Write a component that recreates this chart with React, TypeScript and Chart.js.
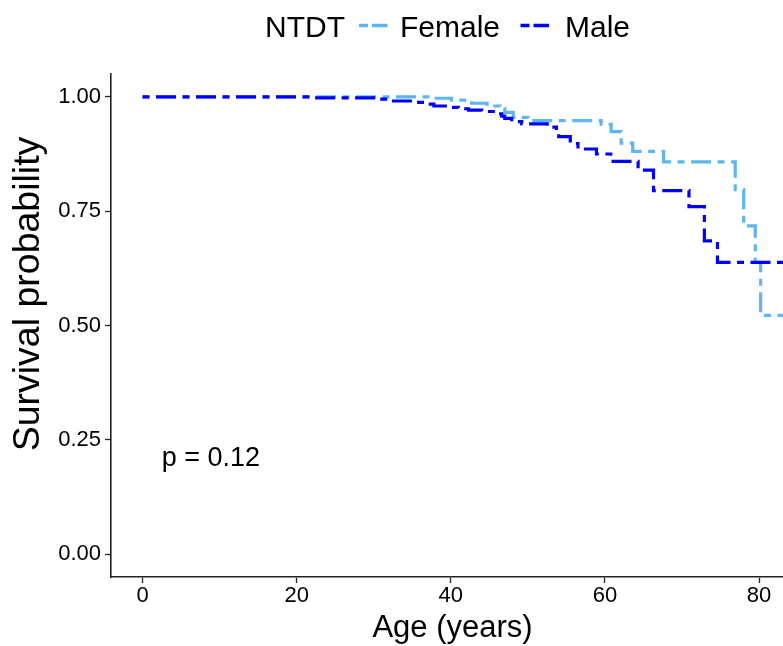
import React, { useEffect, useRef } from 'react';
import { Chart, registerables } from 'chart.js';

Chart.register(...registerables);

// ---- data ----
const femaleAge = [0, 37.5, 40.1, 42.7, 44.7, 46.4, 47.0, 48.1, 50.0, 59.5, 60.8, 62.1, 63.6, 67.6, 76.9, 78.0, 79.5, 80.2, 90];
const femaleSurv = [1.0, 0.997, 0.993, 0.986, 0.980, 0.975, 0.966, 0.955, 0.948, 0.940, 0.924, 0.899, 0.881, 0.858, 0.797, 0.718, 0.638, 0.522, 0.522];

const maleAge = [0, 22.0, 30.4, 32.1, 35.1, 36.9, 37.8, 39.6, 41.0, 42.3, 44.0, 46.2, 46.6, 47.0, 47.9, 49.2, 52.5, 53.7, 54.0, 55.5, 56.5, 58.9, 60.75, 64.3, 66.3, 70.9, 72.9, 74.6, 90];
const maleSurv = [1.0, 0.998, 0.995, 0.991, 0.988, 0.984, 0.980, 0.977, 0.974, 0.971, 0.968, 0.963, 0.958, 0.953, 0.946, 0.941, 0.934, 0.920, 0.913, 0.898, 0.886, 0.875, 0.859, 0.840, 0.795, 0.760, 0.685, 0.638, 0.638];

const xTicks = [0, 20, 40, 60, 80];
const yTicks = [0, 0.25, 0.5, 0.75, 1.0];
const seriesNames = ['Female', 'Male'];
const legendTitle = 'NTDT';
const pValueText = 'p = 0.12';
const pValuePos = { x: 2.5, y: 0.21 };
const xTitle = 'Age (years)';
const yTitle = 'Survival probability';

const FEMALE_COLOR = '#5CB6F4';
const MALE_COLOR = '#0000FF';
const FONT = '"Liberation Sans", Arial, sans-serif';
const DASH = [7, 6.5, 20, 6.5];

export default function App() {
  const ref = useRef<HTMLCanvasElement>(null);

  useEffect(() => {
    document.body.style.margin = '0';
    const canvas = ref.current;
    if (!canvas) return;

    const overlay = {
      id: 'overlay',
      afterDraw(chart: any) {
        const ctx = chart.ctx as CanvasRenderingContext2D;
        const xs = chart.scales.x;
        const ys = chart.scales.y;
        ctx.save();
        ctx.fillStyle = '#000';

        // p-value
        ctx.font = `27px ${FONT}`;
        ctx.textAlign = 'left';
        ctx.textBaseline = 'middle';
        ctx.fillText(pValueText, xs.getPixelForValue(pValuePos.x), ys.getPixelForValue(pValuePos.y));

        // x title
        ctx.font = `31px ${FONT}`;
        ctx.textAlign = 'center';
        ctx.textBaseline = 'alphabetic';
        ctx.fillText(xTitle, 452.5, 637);

        // y title
        ctx.save();
        ctx.translate(29, 294);
        ctx.rotate(-Math.PI / 2);
        ctx.font = `37.5px ${FONT}`;
        ctx.textAlign = 'center';
        ctx.textBaseline = 'middle';
        ctx.fillText(yTitle, 0, 0);
        ctx.restore();

        // legend
        ctx.font = `30px ${FONT}`;
        ctx.textAlign = 'left';
        ctx.textBaseline = 'alphabetic';
        ctx.fillText(legendTitle, 265, 37);
        const keys = [
          { name: seriesNames[0], color: FEMALE_COLOR, x0: 359, tx: 400 },
          { name: seriesNames[1], color: MALE_COLOR, x0: 520.5, tx: 565 },
        ];
        for (const k of keys) {
          ctx.save();
          ctx.strokeStyle = k.color;
          ctx.lineWidth = 3.4;
          ctx.setLineDash([9, 4, 16, 4]);
          ctx.beginPath();
          ctx.moveTo(k.x0, 25.5);
          ctx.lineTo(k.x0 + 28.5, 25.5);
          ctx.stroke();
          ctx.restore();
          ctx.fillStyle = '#000';
          ctx.fillText(k.name, k.tx, 37);
        }
        ctx.restore();
      },
    };

    const axisCommon = {
      type: 'linear' as const,
      grid: {
        drawOnChartArea: false,
        drawTicks: true,
        tickLength: 6,
        tickColor: '#222',
        tickWidth: 1.3,
      },
      border: { display: true, color: '#222', width: 1.6 },
    };

    const chart = new Chart(canvas, {
      type: 'line',
      data: {
        datasets: [
          {
            label: seriesNames[1],
            data: maleAge.map((x, i) => ({ x, y: maleSurv[i] })),
            borderColor: MALE_COLOR,
            backgroundColor: MALE_COLOR,
            borderWidth: 3.2,
            borderDash: DASH,
            borderCapStyle: 'butt',
            stepped: 'before',
            pointRadius: 0,
            fill: false,
          },
          {
            label: seriesNames[0],
            data: femaleAge.map((x, i) => ({ x, y: femaleSurv[i] })),
            borderColor: FEMALE_COLOR,
            backgroundColor: FEMALE_COLOR,
            borderWidth: 3.2,
            borderDash: DASH,
            borderCapStyle: 'butt',
            stepped: 'before',
            pointRadius: 0,
            fill: false,
          },
        ],
      },
      options: {
        responsive: false,
        animation: false,
        layout: { padding: { top: 74, right: 0, left: 0, bottom: 0 } },
        plugins: {
          legend: { display: false },
          tooltip: { enabled: false },
          title: { display: false },
        },
        scales: {
          x: {
            ...axisCommon,
            min: -4.09,
            max: 83.1,
            afterBuildTicks: (s: any) => {
              s.ticks = xTicks.map((v) => ({ value: v }));
            },
            afterFit: (s: any) => {
              s.height = 69;
            },
            ticks: {
              color: '#000',
              font: { family: FONT, size: 22 },
              padding: 0,
              maxRotation: 0,
              autoSkip: false,
              callback: (v: any) => String(v),
            },
          },
          y: {
            ...axisCommon,
            min: -0.05,
            max: 1.05,
            afterBuildTicks: (s: any) => {
              s.ticks = yTicks.map((v) => ({ value: v }));
            },
            afterFit: (s: any) => {
              s.width = 111;
            },
            ticks: {
              color: '#000',
              font: { family: FONT, size: 22 },
              padding: 4,
              autoSkip: false,
              callback: (v: any) => Number(v).toFixed(2),
            },
          },
        },
      },
      plugins: [overlay],
    } as any);

    return () => chart.destroy();
  }, []);

  return (
    <div style={{ width: 783, height: 646 }}>
      <canvas ref={ref} width={783} height={646} style={{ display: 'block' }} />
    </div>
  );
}
